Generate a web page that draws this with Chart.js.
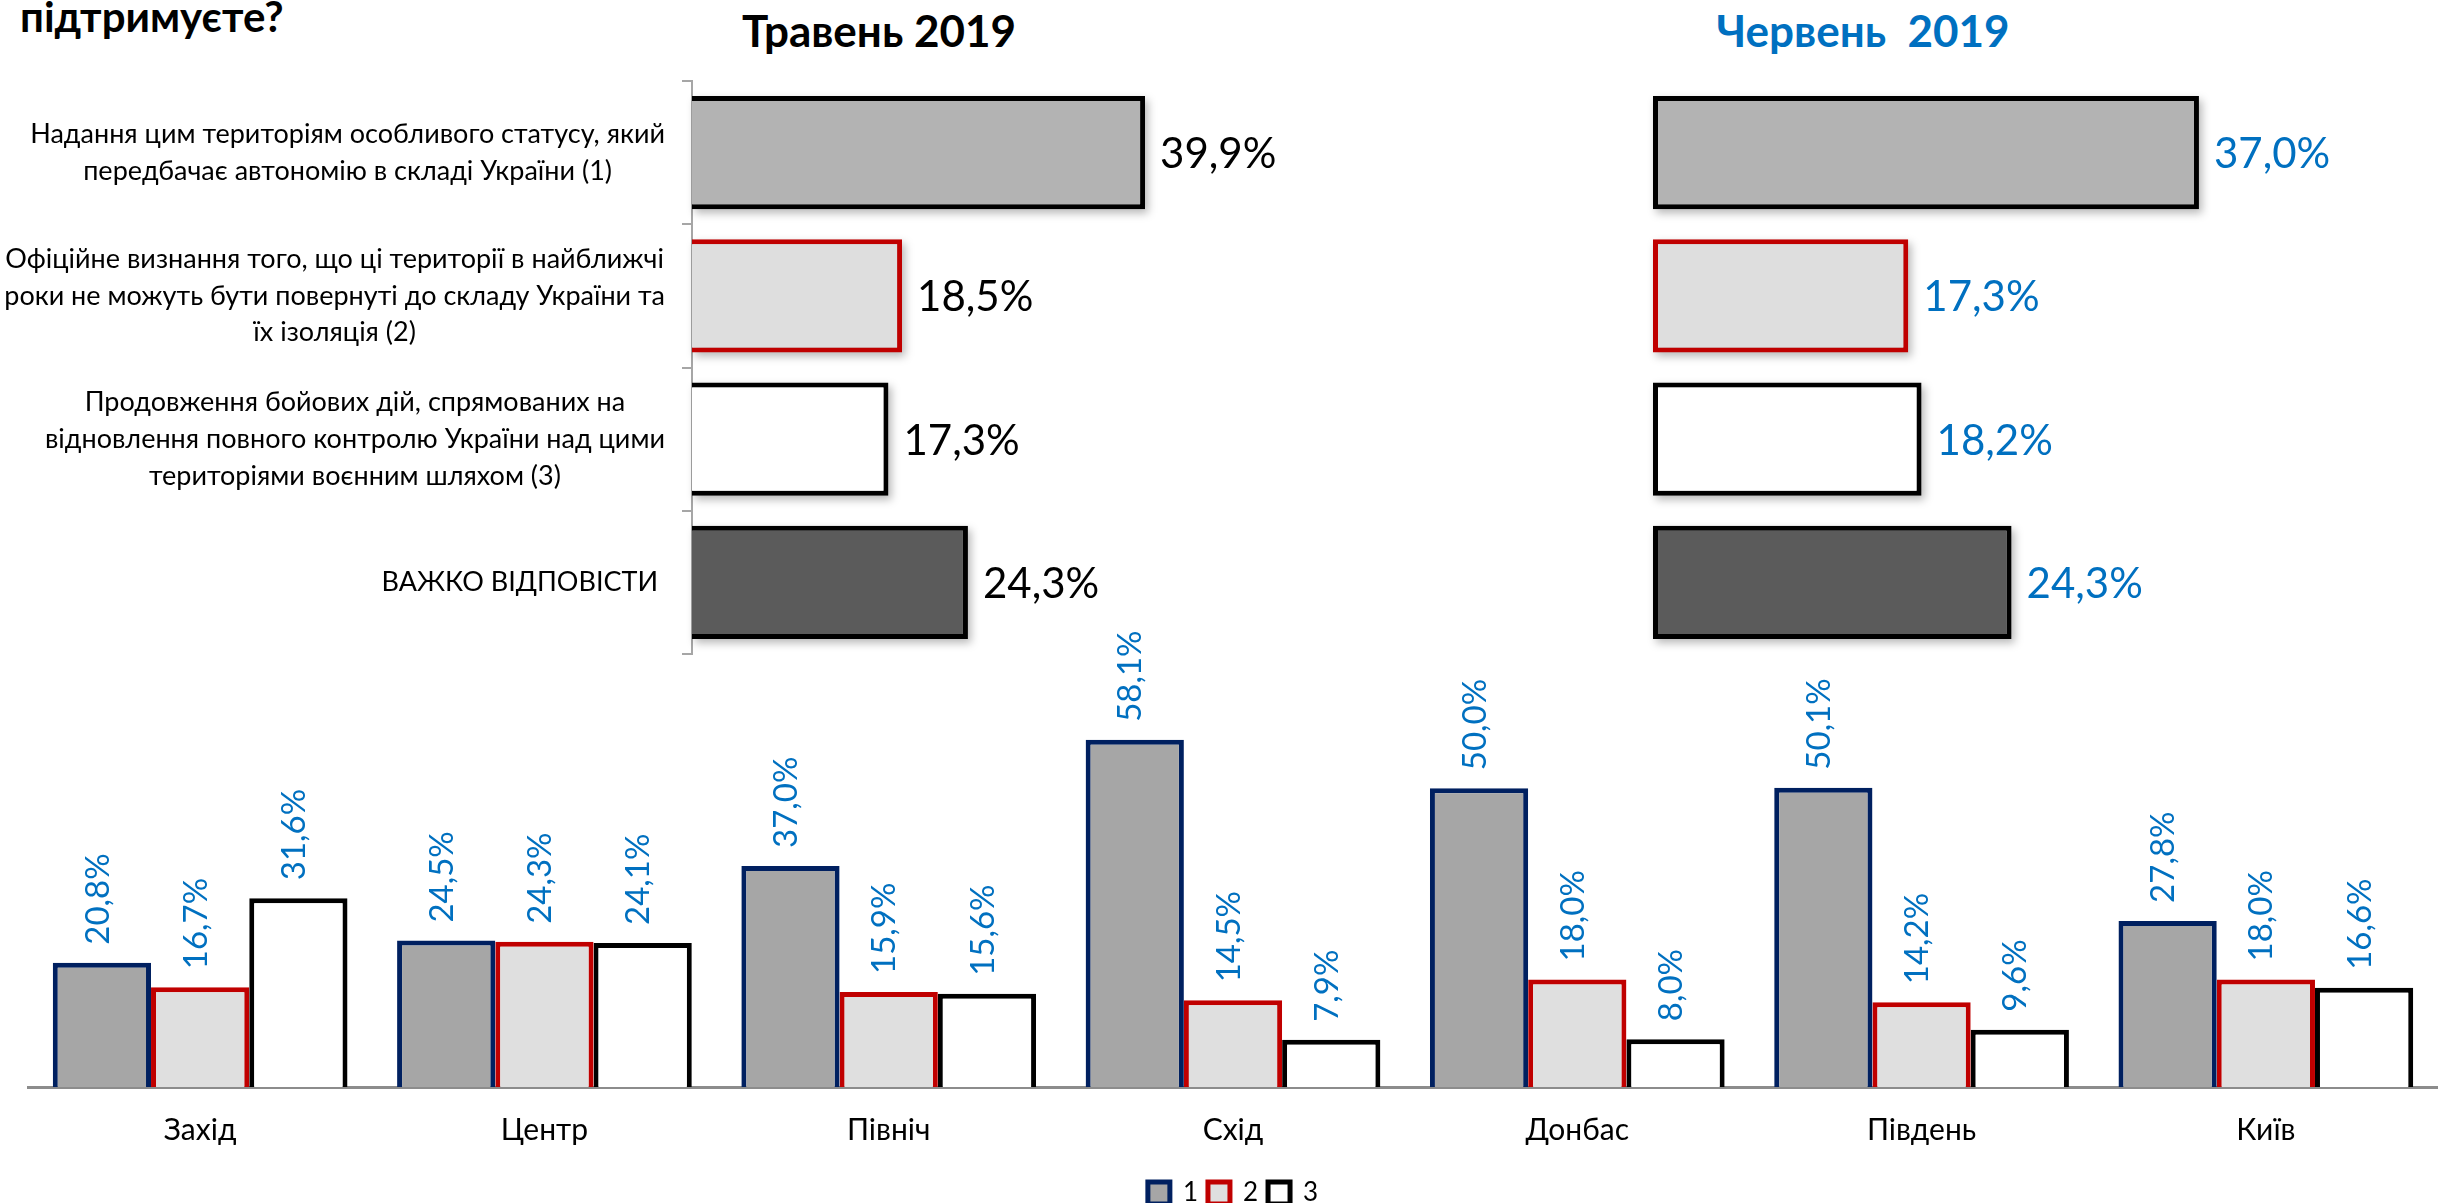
<!DOCTYPE html>
<html lang="uk">
<head>
<meta charset="utf-8">
<title>Травень / Червень 2019</title>
<script src="https://cdn.jsdelivr.net/npm/chart.js@4.4.0/dist/chart.umd.min.js"></script>
<style>
  html, body { margin: 0; padding: 0; background: #fff; }
  #page { position: relative; width: 2438px; height: 1203px; overflow: hidden; font-family: Lato, "Open Sans", sans-serif; }
  canvas { position: absolute; }
  .title { position: absolute; font-weight: bold; line-height: 1; white-space: pre; }
</style>
</head>
<body>
<div id="page">
  <div class="title" style="left:20px; top:-5px; font-size:42px;">підтримуєте?</div>
  <div class="title" style="left:879px; top:8px; font-size:44px; transform:translateX(-50%);">Травень 2019</div>
  <div class="title" style="left:1863px; top:8px; font-size:44px; color:#0070C0; transform:translateX(-50%);">Червень  2019</div>
  <canvas id="may" width="1300" height="700" style="left:0; top:0;"></canvas>
  <canvas id="june" width="1138" height="700" style="left:1300px; top:0;"></canvas>
  <canvas id="regions" width="2438" height="625" style="left:0; top:600px;"></canvas>
</div>
<script>
// дані
const answers = [
    ["Надання цим територіям особливого статусу, який", "передбачає автономію в складі України (1)"],
    ["Офіційне визнання того, що ці території в найближчі", "роки не можуть бути повернуті до складу України та", "їх ізоляція (2)"],
    ["Продовження бойових дій, спрямованих на", "відновлення повного контролю України над цими", "територіями воєнним шляхом (3)"],
    ["ВАЖКО ВІДПОВІСТИ "]
];
const may2019 = [39.9, 18.5, 17.3, 24.3];
const june2019 = [37.0, 17.3, 18.2, 24.3];

const regions = ["Захід", "Центр", "Північ", "Схід", "Донбас", "Південь", "Київ"];
const option1 = [20.8, 24.5, 37.0, 58.1, 50.0, 50.1, 27.8];
const option2 = [16.7, 24.3, 15.9, 14.5, 18.0, 14.2, 18.0];
const option3 = [31.6, 24.1, 15.6, 7.9, 8.0, 9.6, 16.6];
const optionNames = ["1", "2", "3"];

// кольори
const answerFill = ["#b3b3b3", "#dedede", "#ffffff", "#5b5b5b"];
const answerBorder = ["#000000", "#c00000", "#000000", "#000000"];
const BLUE = "#0070C0";
const FONT = "Lato, 'Open Sans', sans-serif";

Chart.defaults.font.family = FONT;
Chart.defaults.color = "#000";

function pct(v) {
    return v.toFixed(1).replace(".", ",") + "%";
}

// тінь під смугами + підписи значень праворуч
function barLabels(color) {
    return {
        id: "barLabels",
        beforeDatasetsDraw(chart) {
            const ctx = chart.ctx;
            ctx.save();
            ctx.fillStyle = "rgba(0,0,0,0.28)";
            ctx.filter = "blur(4px)";
            chart.getDatasetMeta(0).data.forEach(bar => {
                ctx.fillRect(bar.base + 3, bar.y - bar.height / 2 + 4, bar.x - bar.base, bar.height);
            });
            ctx.restore();
        },
        afterDatasetsDraw(chart) {
            const ctx = chart.ctx;
            const values = chart.data.datasets[0].data;
            ctx.save();
            ctx.font = "42px " + FONT;
            ctx.fillStyle = color;
            ctx.textAlign = "left";
            ctx.textBaseline = "middle";
            chart.getDatasetMeta(0).data.forEach((bar, i) => {
                ctx.fillText(pct(values[i]), bar.x + 15, bar.y + 2);
            });
            ctx.restore();
        }
    };
}

// багаторядкові підписи категорій (рядки центровані, блок притиснутий до осі)
const answerTicks = {
    id: "answerTicks",
    afterDraw(chart) {
        const ctx = chart.ctx;
        const yScale = chart.scales.y;
        const right = yScale.right - 27;
        ctx.save();
        ctx.font = "27px " + FONT;
        ctx.fillStyle = "#000";
        ctx.textAlign = "center";
        ctx.textBaseline = "middle";
        chart.data.labels.forEach((lines, i) => {
            const cy = yScale.getPixelForValue(i);
            const w = Math.max(...lines.map(l => ctx.measureText(l).width));
            const cx = right - w / 2;
            lines.forEach((line, j) => {
                ctx.fillText(line, cx, cy + (j - (lines.length - 1) / 2) * 36.7);
            });
        });
        ctx.restore();
    }
};

function answerChart(id, values, opts) {
    return new Chart(document.getElementById(id), {
        type: "bar",
        data: {
            labels: answers,
            datasets: [{
                data: values,
                backgroundColor: answerFill,
                borderColor: answerBorder,
                borderWidth: 5,
                borderSkipped: opts.skip,
                categoryPercentage: 1,
                barPercentage: 0.79
            }]
        },
        options: {
            indexAxis: "y",
            responsive: false,
            animation: false,
            layout: { padding: opts.padding },
            plugins: { legend: { display: false }, tooltip: { enabled: false } },
            scales: {
                x: { display: false, min: 0, max: 45 },
                y: opts.yAxis
            }
        },
        plugins: opts.plugins
    });
}

// Травень 2019
answerChart("may", may2019, {
    skip: "start",
    padding: { top: 81, bottom: 46, left: 0, right: 97 },
    yAxis: {
        display: true,
        afterFit(scale) { scale.width = 692; },
        ticks: { display: false },
        grid: { drawOnChartArea: false, drawTicks: true, tickLength: 10, color: "#a6a6a6", lineWidth: 2, offset: true },
        border: { display: true, color: "#a6a6a6", width: 2 }
    },
    plugins: [barLabels("#000"), answerTicks]
});

// Червень 2019
answerChart("june", june2019, {
    skip: false,
    padding: { top: 81, bottom: 46, left: 353, right: 121 },
    yAxis: { display: false },
    plugins: [barLabels(BLUE)]
});

// повернуті підписи над стовпчиками
const columnLabels = {
    id: "columnLabels",
    afterDatasetsDraw(chart) {
        const ctx = chart.ctx;
        ctx.save();
        ctx.font = "33px " + FONT;
        ctx.fillStyle = BLUE;
        ctx.textAlign = "left";
        ctx.textBaseline = "middle";
        chart.data.datasets.forEach((ds, d) => {
            chart.getDatasetMeta(d).data.forEach((bar, i) => {
                ctx.save();
                ctx.translate(bar.x - 4, bar.y - 18);
                ctx.rotate(-Math.PI / 2);
                ctx.fillText(pct(ds.data[i]), 0, 0);
                ctx.restore();
            });
        });
        ctx.restore();
    }
};

new Chart(document.getElementById("regions"), {
    type: "bar",
    data: {
        labels: regions,
        datasets: [
            { label: optionNames[0], data: option1, backgroundColor: "#a6a6a6", borderColor: "#002060" },
            { label: optionNames[1], data: option2, backgroundColor: "#dfdfdf", borderColor: "#c00000" },
            { label: optionNames[2], data: option3, backgroundColor: "#ffffff", borderColor: "#000000" }
        ].map(ds => Object.assign(ds, { borderWidth: 5, categoryPercentage: 0.856, barPercentage: 1 }))
    },
    options: {
        responsive: false,
        animation: false,
        layout: { padding: { top: 9, left: 28, right: 0, bottom: 9 } },
        plugins: {
            tooltip: { enabled: false },
            legend: {
                position: "bottom",
                labels: { boxWidth: 22, boxHeight: 22, padding: 10, color: "#000", font: { size: 26 } }
            }
        },
        scales: {
            x: {
                afterFit(scale) { scale.height += 5; },
                grid: { display: false },
                border: { display: true, color: "#8c8c8c", width: 3 },
                ticks: { padding: 17, color: "#000", font: { size: 30 } }
            },
            y: { display: false, min: 0, max: 80 }
        }
    },
    plugins: [columnLabels]
});
</script>
</body>
</html>
